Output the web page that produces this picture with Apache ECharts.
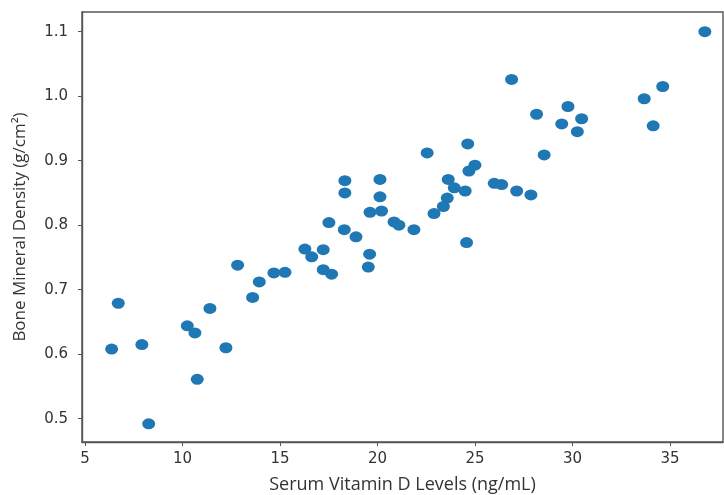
<!DOCTYPE html>
<html>
<head>
<meta charset="utf-8">
<script src="https://cdn.jsdelivr.net/npm/echarts@6/dist/echarts.min.js"></script>
<style>html,body{margin:0;padding:0;background:#fff}#c{width:724px;height:495px}</style>
</head>
<body>
<div id="c"></div>
<script>
var vitaminD = [6.37,6.71,7.92,8.27,10.25,10.64,10.76,11.41,12.23,12.83,13.60,13.94,14.69,15.26,16.28,16.63,17.22,17.22,17.65,19.60,19.53,18.33,18.33,17.51,18.30,18.90,19.62,20.21,20.13,20.13,20.85,21.10,21.87,22.55,22.90,23.38,23.58,23.63,23.94,24.50,24.57,24.63,24.69,25.00,25.99,26.37,26.88,27.14,27.87,28.16,28.55,29.45,29.77,30.25,30.47,33.68,34.14,34.63,36.79];
var bmd = [0.608,0.679,0.615,0.492,0.644,0.633,0.561,0.671,0.610,0.738,0.688,0.712,0.726,0.727,0.763,0.751,0.762,0.731,0.724,0.755,0.735,0.869,0.850,0.804,0.793,0.782,0.820,0.822,0.871,0.844,0.805,0.800,0.793,0.912,0.818,0.829,0.842,0.871,0.858,0.853,0.773,0.926,0.884,0.893,0.865,0.863,1.026,0.853,0.847,0.972,0.909,0.957,0.984,0.945,0.965,0.996,0.954,1.015,1.100];
var xTicks = [5,10,15,20,25,30,35];
var yTicks = [0.5,0.6,0.7,0.8,0.9,1.0,1.1];

var pts = vitaminD.map(function(v,i){return [v,bmd[i]];});
var tickFont = 'DejaVu Sans';
var nameFont = 'Open Sans';
var chart = echarts.init(document.getElementById('c'));
chart.setOption({
  animation:false,
  grid:{left:82,top:12,right:1,bottom:53,containLabel:false,outerBoundsMode:'none',show:true,borderColor:'#555',borderWidth:1.4,backgroundColor:'transparent'},
  xAxis:{type:'value',min:4.85,max:37.72,
    name:'Serum Vitamin D Levels (ng/mL)',nameLocation:'middle',nameGap:34,
    nameTextStyle:{fontFamily:nameFont,fontSize:18,color:'#333'},
    axisLine:{show:true,lineStyle:{color:'#555',width:1.4}},
    axisTick:{show:true,length:4,lineStyle:{color:'#555'},customValues:xTicks},
    axisLabel:{color:'#333',fontFamily:tickFont,fontSize:15,margin:10,customValues:xTicks,formatter:function(v){return String(v);}},
    splitLine:{show:false}},
  yAxis:{type:'value',min:0.4639,max:1.1305,
    name:'Bone Mineral Density (g/cm²)',nameLocation:'middle',nameGap:53,
    nameTextStyle:{fontFamily:nameFont,fontSize:17,color:'#333'},
    axisLine:{show:true,lineStyle:{color:'#555',width:1.4}},
    axisTick:{show:true,length:4,lineStyle:{color:'#555'},customValues:yTicks},
    axisLabel:{color:'#333',fontFamily:tickFont,fontSize:15,margin:14,customValues:yTicks,formatter:function(v){return v.toFixed(1);}},
    splitLine:{show:false}},
  series:[{type:'scatter',data:pts,symbol:'circle',symbolSize:[13,11],itemStyle:{color:'#1f77b4',opacity:1}}]
});
</script>
</body>
</html>
